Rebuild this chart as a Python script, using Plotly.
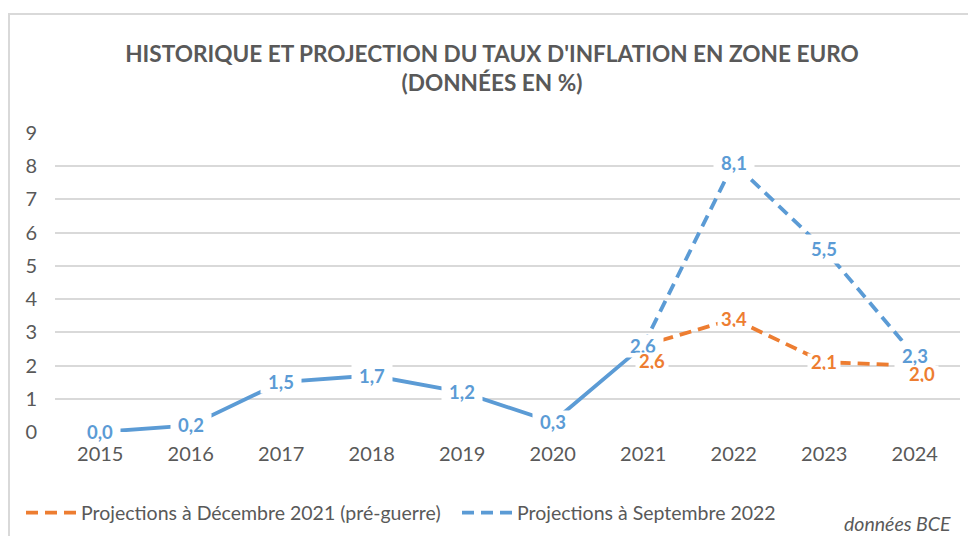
import plotly.graph_objects as go

# ---- data ----
years = [2015, 2016, 2017, 2018, 2019, 2020, 2021, 2022, 2023, 2024]
hist_years = [2015, 2016, 2017, 2018, 2019, 2020, 2021]
hist_values = [0.0, 0.2, 1.5, 1.7, 1.2, 0.3, 2.6]
proj_years = [2021, 2022, 2023, 2024]
proj_dec2021 = [2.6, 3.4, 2.1, 2.0]
proj_sep2022 = [2.6, 8.1, 5.5, 2.3]
y_ticks = [0, 1, 2, 3, 4, 5, 6, 7, 8, 9]

name_dec = "Projections à Décembre 2021 (pré-guerre)"
name_sep = "Projections à Septembre 2022"
title_text = "HISTORIQUE ET PROJECTION DU TAUX D'INFLATION EN ZONE EURO<br>(DONNÉES EN %)"
source_text = "données BCE"

# ---- styles ----
BLUE = "#5B9BD5"
ORANGE = "#ED7D31"
GREY = "#595959"
GRID = "#D9D9D9"
FONT = "Lato"
DASH = "12px,7px"
LW = 3.8

# the page body adds an 8px margin; the figure is sized to fill the rest
W, H = 968, 528
L, R, T, B = 47, 16, 125, 104
PW, PH = W - L - R, H - T - B

# label offsets (pixels) for the orange labels
orange_shift = [(9, -15), (0, 0), (0, 0), (7, -8)]


def fmt(v):
    return f"{v:.1f}".replace(".", ",")


fig = go.Figure()
fig.add_trace(go.Scatter(x=hist_years, y=hist_values, mode="lines",
                         line=dict(color=BLUE, width=LW), showlegend=False,
                         hoverinfo="skip"))
fig.add_trace(go.Scatter(x=proj_years, y=proj_dec2021, mode="lines", name=name_dec,
                         line=dict(color=ORANGE, width=LW, dash=DASH)))
fig.add_trace(go.Scatter(x=proj_years, y=proj_sep2022, mode="lines", name=name_sep,
                         line=dict(color=BLUE, width=LW, dash=DASH)))

annotations = []
label_font = dict(family=FONT, size=18.5, color=BLUE, weight="bold")
for x, v in zip(hist_years, hist_values):
    annotations.append(dict(x=x, y=v, xref="x", yref="y", text=fmt(v), showarrow=False,
                            font=label_font, bgcolor="white", borderpad=0,
                            width=40, height=22))
for x, v in zip(proj_years[1:], proj_sep2022[1:]):
    annotations.append(dict(x=x, y=v, xref="x", yref="y", text=fmt(v), showarrow=False,
                            font=label_font, bgcolor="white", borderpad=0,
                            width=40, height=28))
for (x, v), (dx, dy) in zip(zip(proj_years, proj_dec2021), orange_shift):
    annotations.append(dict(x=x, y=v, xref="x", yref="y", text=fmt(v), showarrow=False,
                            xshift=dx, yshift=dy,
                            font=dict(family=FONT, size=18.5, color=ORANGE, weight="bold"),
                            bgcolor="white", borderpad=0, width=32, height=16))
annotations.append(dict(x=(945 - L) / PW, y=(H - B - 515) / PH, xref="paper", yref="paper",
                        text=source_text, showarrow=False, xanchor="right", yanchor="middle",
                        font=dict(family=FONT, size=19.5, color=GREY, style="italic")))

fig.update_layout(
    width=W, height=H,
    margin=dict(l=L, r=R, t=T, b=B),
    paper_bgcolor="white", plot_bgcolor="white",
    title=dict(text=title_text, x=0.5, xref="container", xanchor="center",
               y=1 - 54 / H, yref="container", yanchor="top",
               font=dict(family=FONT, size=22.6, color=GREY, weight="bold")),
    font=dict(family=FONT, color=GREY, size=18),
    xaxis=dict(range=[2014.5, 2024.5], tickvals=years, ticktext=[str(y) for y in years],
               showgrid=False, zeroline=False, showline=False, ticks="",
               tickfont=dict(size=20, color=GREY), ticklabelstandoff=8),
    yaxis=dict(range=[0, 9], tickvals=y_ticks, showgrid=True, gridcolor=GRID, gridwidth=1.5,
               zeroline=False, showline=False, ticks="",
               tickfont=dict(size=20, color=GREY), ticklabelstandoff=17),
    legend=dict(orientation="h", xref="container", yref="container",
                x=13 / W, xanchor="left", y=1 - 505 / H, yanchor="middle",
                font=dict(family=FONT, size=19.5, color=GREY), itemwidth=50,
                entrywidth=371, entrywidthmode="pixels",
                bgcolor="rgba(0,0,0,0)"),
    annotations=annotations,
    shapes=[dict(type="rect", xref="paper", yref="paper", x0=(1 - L) / PW, x1=1.05,
                 y0=-0.5, y1=(H - B - 6) / PH, line=dict(color=GRID, width=2),
                 fillcolor="rgba(0,0,0,0)", layer="below")],
    showlegend=True,
)

fig.write_html("out.html")
